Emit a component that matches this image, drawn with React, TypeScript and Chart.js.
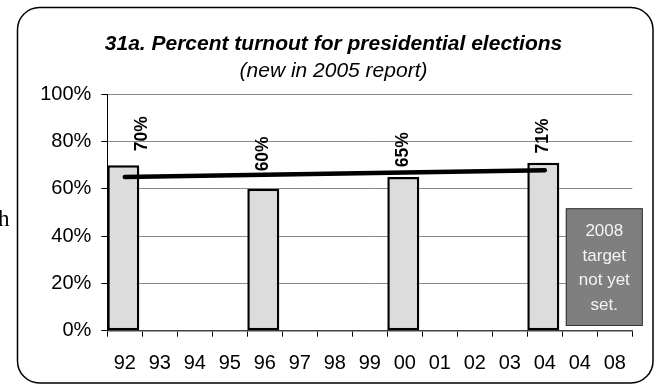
import React, { useEffect, useRef } from "react";
import { Chart, registerables } from "chart.js";

Chart.register(...registerables);

// ---- data ----
const categories = ["92", "93", "94", "95", "96", "97", "98", "99", "00", "01", "02", "03", "04", "04", "08"];
const turnout: (number | null)[] = [70, null, null, null, 60, null, null, null, 65, null, null, null, 71, null, null];
const trendLine: (number | null)[] = [65.0, null, null, null, null, null, null, null, null, null, null, null, 67.9, null, null];
const yMin = 0;
const yMax = 100;
const yStep = 20;
const titleText = "31a. Percent turnout for presidential elections";
const subtitleText = "(new in 2005 report)";
const targetNote = ["2008", "target", "not yet", "set."];
const targetIndex = 13;
const targetTop = 51.8;
const targetBottom = 2;

// label nudges (style only): [dx from bar centre, gap above bar top]
const labelNudge: [number, number][] = [[19, 14], [0, 0], [0, 0], [0, 0], [0, 17.5], [0, 0], [0, 0], [0, 0], [0, 9.7], [0, 0], [0, 0], [0, 0], [0, 9.3], [0, 0], [0, 0]];

const FONT = "'Liberation Sans', Arial, sans-serif";

const framePlugin = {
  id: "frame",
  beforeDraw(chart: any) {
    const ctx = chart.ctx;
    ctx.save();
    ctx.fillStyle = "#ffffff";
    ctx.fillRect(0, 0, chart.width, chart.height);
    ctx.beginPath();
    ctx.roundRect(17.5, 7.5, 635.5, 375.5, 22);
    ctx.lineWidth = 1.5;
    ctx.strokeStyle = "#000";
    ctx.stroke();
    ctx.fillStyle = "#000";
    ctx.textAlign = "center";
    ctx.textBaseline = "alphabetic";
    ctx.font = `italic bold 21px ${FONT}`;
    ctx.fillText(titleText, 333.5, 50);
    ctx.font = `italic 21px ${FONT}`;
    ctx.fillText(subtitleText, 333.5, 76.5);
    ctx.restore();
  },
};

const barShiftPlugin = {
  id: "barShift",
  afterDatasetsUpdate(chart: any) {
    const xs = chart.scales.x;
    const band = xs.width / categories.length;
    const meta = chart.getDatasetMeta(0);
    meta.data.forEach((el: any) => {
      el.x = el.x - (band - el.width) / 2;
    });
  },
};

const overlayPlugin = {
  id: "overlay",
  afterDatasetsDraw(chart: any) {
    const ctx = chart.ctx;
    const xs = chart.scales.x;
    const ys = chart.scales.y;
    const meta = chart.getDatasetMeta(0);
    ctx.save();
    // value labels
    ctx.font = `bold 17.5px ${FONT}`;
    ctx.fillStyle = "#000";
    ctx.textAlign = "left";
    ctx.textBaseline = "middle";
    turnout.forEach((v, i) => {
      if (v == null) return;
      const el: any = meta.data[i];
      const [dx, gap] = labelNudge[i];
      ctx.save();
      ctx.translate(el.x + dx, el.y - gap);
      ctx.rotate(-Math.PI / 2);
      ctx.fillText(`${v}%`, 0, 0);
      ctx.restore();
    });
    // target box
    const band = xs.width / categories.length;
    const left = xs.getPixelForValue(targetIndex) - band / 2 + 3.5;
    const right = chart.chartArea.right + 10.5;
    const top = ys.getPixelForValue(targetTop);
    const bottom = ys.getPixelForValue(targetBottom);
    ctx.fillStyle = "#7f7f7f";
    ctx.fillRect(left, top, right - left, bottom - top);
    ctx.lineWidth = 1;
    ctx.strokeStyle = "#333";
    ctx.strokeRect(left + 0.5, top + 0.5, right - left - 1, bottom - top - 1);
    ctx.fillStyle = "#f4f4f4";
    ctx.font = `17px ${FONT}`;
    ctx.textAlign = "center";
    ctx.textBaseline = "alphabetic";
    const mid = (top + bottom) / 2;
    const lh = 24.5;
    const first = mid - ((targetNote.length - 1) / 2) * lh + 6;
    targetNote.forEach((t, i) => {
      ctx.fillText(t, (left + right) / 2, first + i * lh);
    });
    ctx.restore();
  },
};

function TurnoutChart() {
  const ref = useRef<HTMLCanvasElement | null>(null);
  useEffect(() => {
    if (!ref.current) return;
    const chart = new Chart(ref.current, {
      type: "bar",
      data: {
        labels: categories,
        datasets: [
          {
            type: "bar",
            data: turnout as any,
            backgroundColor: "#dcdcdc",
            borderColor: "#000",
            borderWidth: 2.5,
            borderSkipped: false,
            categoryPercentage: 1,
            barPercentage: 32 / 35,
            order: 2,
          } as any,
          {
            type: "line",
            data: trendLine as any,
            borderColor: "#000",
            borderWidth: 4.5,
            borderCapStyle: "round",
            pointRadius: 0,
            spanGaps: true,
            fill: false,
            order: 1,
          } as any,
        ],
      },
      options: {
        responsive: false,
        animation: false,
        layout: { padding: { top: 94.3, right: 23.7, left: 0, bottom: 0 } },
        plugins: { legend: { display: false }, tooltip: { enabled: false }, title: { display: false } },
        scales: {
          x: {
            offset: true,
            grid: { offset: true, drawOnChartArea: false, tickLength: 6, tickColor: "#000", lineWidth: 1 },
            border: { color: "#444", width: 1.5 },
            ticks: { color: "#000", font: { family: FONT, size: 20 }, padding: 15, maxRotation: 0, autoSkip: false },
            afterFit(scale: any) {
              scale.height = 388 - 330.7;
            },
          },
          y: {
            min: yMin,
            max: yMax,
            ticks: {
              stepSize: yStep,
              color: "#000",
              font: { family: FONT, size: 20 },
              padding: 10,
              callback: (v: any) => `${v}%`,
            },
            grid: { color: "#8a8a8a", lineWidth: 1, tickLength: 6, tickColor: "#000" },
            border: { color: "#000", width: 1 },
            afterFit(scale: any) {
              scale.width = 107.3;
            },
          },
        },
      },
      plugins: [framePlugin, barShiftPlugin, overlayPlugin],
    });
    return () => chart.destroy();
  }, []);
  return <canvas ref={ref} width={656} height={388} style={{ width: 656, height: 388, display: "block" }} />;
}

export default function App() {
  return (
    <div style={{ position: "absolute", left: 0, top: 0, width: 656, height: 388, background: "#fff" }}>
      <TurnoutChart />
      <span
        style={{
          position: "absolute",
          left: -2,
          top: 207,
          fontFamily: "'Liberation Serif', 'Times New Roman', serif",
          fontSize: 23,
          lineHeight: "23px",
          color: "#000",
        }}
      >
        h
      </span>
    </div>
  );
}
